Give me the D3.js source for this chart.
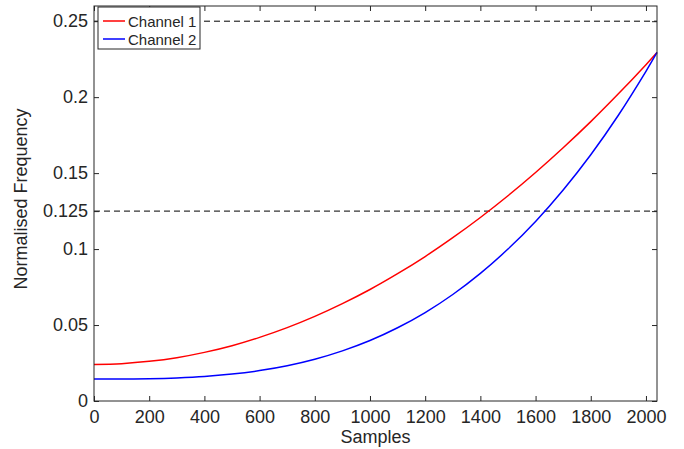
<!DOCTYPE html>
<html><head><meta charset="utf-8">
<script src="https://cdn.jsdelivr.net/npm/d3@7"></script>
<style>
html,body{margin:0;padding:0;background:#fff;}
text{font-family:"Liberation Sans",Arial,sans-serif;}
</style></head>
<body><svg id="c" width="684" height="449"></svg>
<script>
const samples = [0,100,200,300,400,500,600,700,800,900,1000,1100,1200,1300,1400,1500,1600,1700,1800,1900,2000,2040];
const channel1 = [0.0241,0.0246,0.0261,0.0285,0.0320,0.0364,0.0419,0.0483,0.0557,0.0641,0.0734,0.0838,0.0951,0.1075,0.1208,0.1351,0.1504,0.1667,0.1839,0.2022,0.2214,0.2294];
const channel2 = [0.0145,0.0145,0.0147,0.0152,0.0161,0.0177,0.0200,0.0232,0.0275,0.0330,0.0398,0.0482,0.0582,0.0701,0.0840,0.1000,0.1182,0.1389,0.1621,0.1881,0.2170,0.2294];
const seriesNames = ["Channel 1","Channel 2"];
const seriesColors = ["#ff0000","#0000ff"];
const xTicks = [0,200,400,600,800,1000,1200,1400,1600,1800,2000];
const yTicks = [0,0.05,0.1,0.125,0.15,0.2,0.25];
const yTickLabels = ["0","0.05","0.1","0.125","0.15","0.2","0.25"];
const refLines = [0.25,0.125];

const svg = d3.select("#c");
const L=94, R=657, T=6, B=401;
const x = d3.scaleLinear().domain([0,2040]).range([L,R]);
const y = d3.scaleLinear().domain([0,0.26]).range([B,T]);
const axisCol = "#262626";

// reference dashed lines
svg.selectAll(".ref").data(refLines).enter().append("line")
  .attr("x1",L).attr("x2",R).attr("y1",d=>y(d)).attr("y2",d=>y(d))
  .attr("stroke","#000").attr("stroke-width",1).attr("stroke-dasharray","6,4");

// series
const line = d3.line().x((d,i)=>x(samples[i])).y(d=>y(d)).curve(d3.curveCatmullRom.alpha(0.5));
[channel1,channel2].forEach((s,k)=>{
  svg.append("path").attr("d",line(s)).attr("fill","none")
    .attr("stroke",seriesColors[k]).attr("stroke-width",1.5);
});

// axes (inward ticks)
const fs = 18;
const gx = svg.append("g").attr("transform",`translate(0,${B})`)
  .call(d3.axisBottom(x).tickValues(xTicks).tickSizeInner(-5).tickSizeOuter(0).tickPadding(9).tickFormat(d3.format("d")));
const gxt = svg.append("g").attr("transform",`translate(0,${T})`)
  .call(d3.axisTop(x).tickValues(xTicks).tickSizeInner(-5).tickSizeOuter(0).tickFormat(""));
const gy = svg.append("g").attr("transform",`translate(${L},0)`)
  .call(d3.axisLeft(y).tickValues(yTicks).tickSizeInner(-5).tickSizeOuter(0).tickPadding(6).tickFormat((d,i)=>yTickLabels[i]));
const gyr = svg.append("g").attr("transform",`translate(${R},0)`)
  .call(d3.axisRight(y).tickValues(yTicks).tickSizeInner(-5).tickSizeOuter(0).tickFormat(""));
[gx,gxt,gy,gyr].forEach(g=>{
  g.select(".domain").remove();
  g.selectAll("line").attr("stroke",axisCol);
  g.selectAll("text").attr("fill","#262626").style("font-size",fs+"px").style("font-family","Liberation Sans, Arial, sans-serif");
});
gx.selectAll("text").attr("dy","0.71em");
gy.selectAll("text").attr("x",-6);
// box
svg.append("rect").attr("x",L).attr("y",T).attr("width",R-L).attr("height",B-T)
  .attr("fill","none").attr("stroke",axisCol).attr("stroke-width",1);

// axis labels
svg.append("text").attr("x",(L+R)/2).attr("y",443).attr("text-anchor","middle")
  .style("font-size","18px").attr("fill","#262626").text("Samples");
svg.append("text").attr("transform",`translate(27,199) rotate(-90)`).attr("text-anchor","middle")
  .style("font-size","18px").attr("fill","#262626").text("Normalised Frequency");

// legend
const lg = svg.append("g");
lg.append("rect").attr("x",98).attr("y",7).attr("width",102).attr("height",42)
  .attr("fill","#fff").attr("stroke",axisCol).attr("stroke-width",1);
seriesNames.forEach((n,i)=>{
  const yy = 21 + i*18;
  lg.append("line").attr("x1",103).attr("x2",125).attr("y1",yy).attr("y2",yy)
    .attr("stroke",seriesColors[i]).attr("stroke-width",1.5);
  lg.append("text").attr("x",128).attr("y",yy+5.5).style("font-size","15px").attr("fill","#262626").text(n);
});
</script></body></html>
